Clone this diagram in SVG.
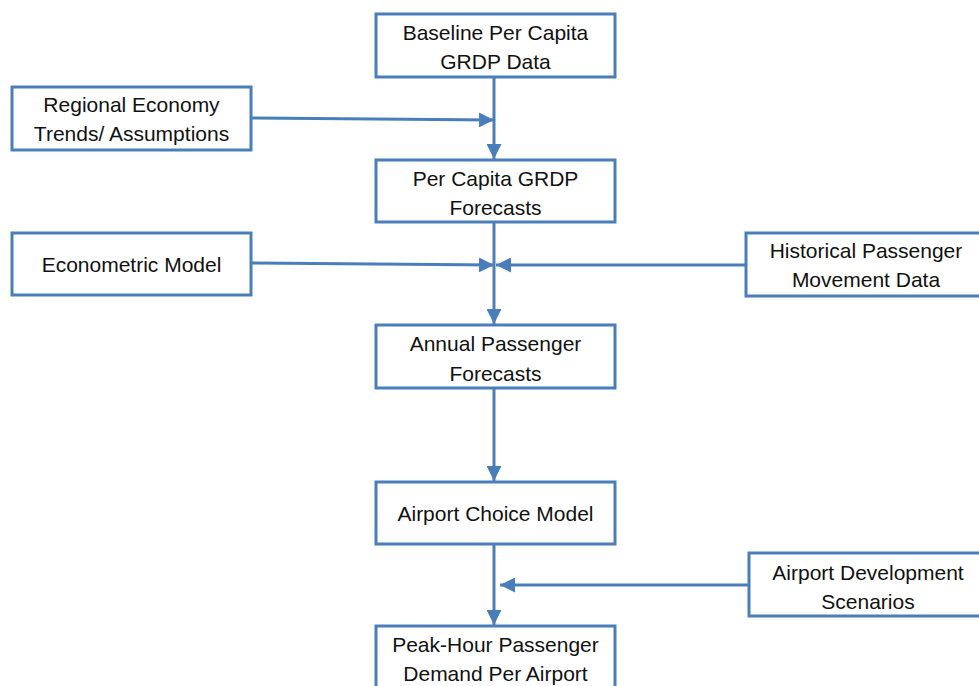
<svg xmlns="http://www.w3.org/2000/svg" width="979" height="686" viewBox="0 0 979 686">
<style>
.box{fill:#fff;stroke:#4a7ebb;stroke-width:3}
.t{font-family:"Liberation Sans",Arial,sans-serif;font-size:21px;fill:#111;text-anchor:middle;dominant-baseline:central}
.c{stroke:#4a7ebb;stroke-width:3;fill:none}
</style>
<defs>
<marker id="ah" viewBox="0 0 10 10" refX="10" refY="5" markerWidth="5" markerHeight="5" markerUnits="strokeWidth" orient="auto">
<path d="M0,0 L10,5 L0,10 z" fill="#4a7ebb"/>
</marker>
</defs>
<rect width="979" height="686" fill="#fff"/>
<g id="connectors">
<line class="c" x1="494" y1="77" x2="494" y2="159" marker-end="url(#ah)"/>
<line class="c" x1="251" y1="118" x2="494" y2="120" marker-end="url(#ah)"/>
<line class="c" x1="494" y1="222" x2="494" y2="324" marker-end="url(#ah)"/>
<line class="c" x1="251" y1="263" x2="494" y2="265" marker-end="url(#ah)"/>
<line class="c" x1="746" y1="265" x2="496" y2="265" marker-end="url(#ah)"/>
<line class="c" x1="494" y1="388" x2="494" y2="481" marker-end="url(#ah)"/>
<line class="c" x1="494" y1="544" x2="494" y2="625" marker-end="url(#ah)"/>
<line class="c" x1="749" y1="585" x2="500" y2="585" marker-end="url(#ah)"/>
</g>
<g id="baseline">
<rect class="box" x="376" y="14" width="239" height="63"/>
<text class="t" x="495.5" y="32">Baseline Per Capita</text>
<text class="t" x="495.5" y="61">GRDP Data</text>
</g>
<g id="regional">
<rect class="box" x="12" y="87" width="239" height="63"/>
<text class="t" x="131.5" y="104">Regional Economy</text>
<text class="t" x="131.5" y="133">Trends/ Assumptions</text>
</g>
<g id="grdp-forecasts">
<rect class="box" x="376" y="160" width="239" height="62"/>
<text class="t" x="495.5" y="178">Per Capita GRDP</text>
<text class="t" x="495.5" y="207">Forecasts</text>
</g>
<g id="econometric">
<rect class="box" x="12" y="233" width="239" height="62"/>
<text class="t" x="131.5" y="264">Econometric Model</text>
</g>
<g id="historical">
<rect class="box" x="746" y="233" width="240" height="63"/>
<text class="t" x="866" y="250">Historical Passenger</text>
<text class="t" x="866" y="279">Movement Data</text>
</g>
<g id="annual">
<rect class="box" x="376" y="325" width="239" height="63"/>
<text class="t" x="495.5" y="343">Annual Passenger</text>
<text class="t" x="495.5" y="373">Forecasts</text>
</g>
<g id="choice">
<rect class="box" x="376" y="482" width="239" height="62"/>
<text class="t" x="495.5" y="513">Airport Choice Model</text>
</g>
<g id="development">
<rect class="box" x="749" y="553" width="240" height="63"/>
<text class="t" x="868" y="572">Airport Development</text>
<text class="t" x="868" y="601">Scenarios</text>
</g>
<g id="peak">
<rect class="box" x="376" y="626" width="239" height="70"/>
<text class="t" x="495.5" y="644">Peak-Hour Passenger</text>
<text class="t" x="495.5" y="673">Demand Per Airport</text>
</g>
</svg>
